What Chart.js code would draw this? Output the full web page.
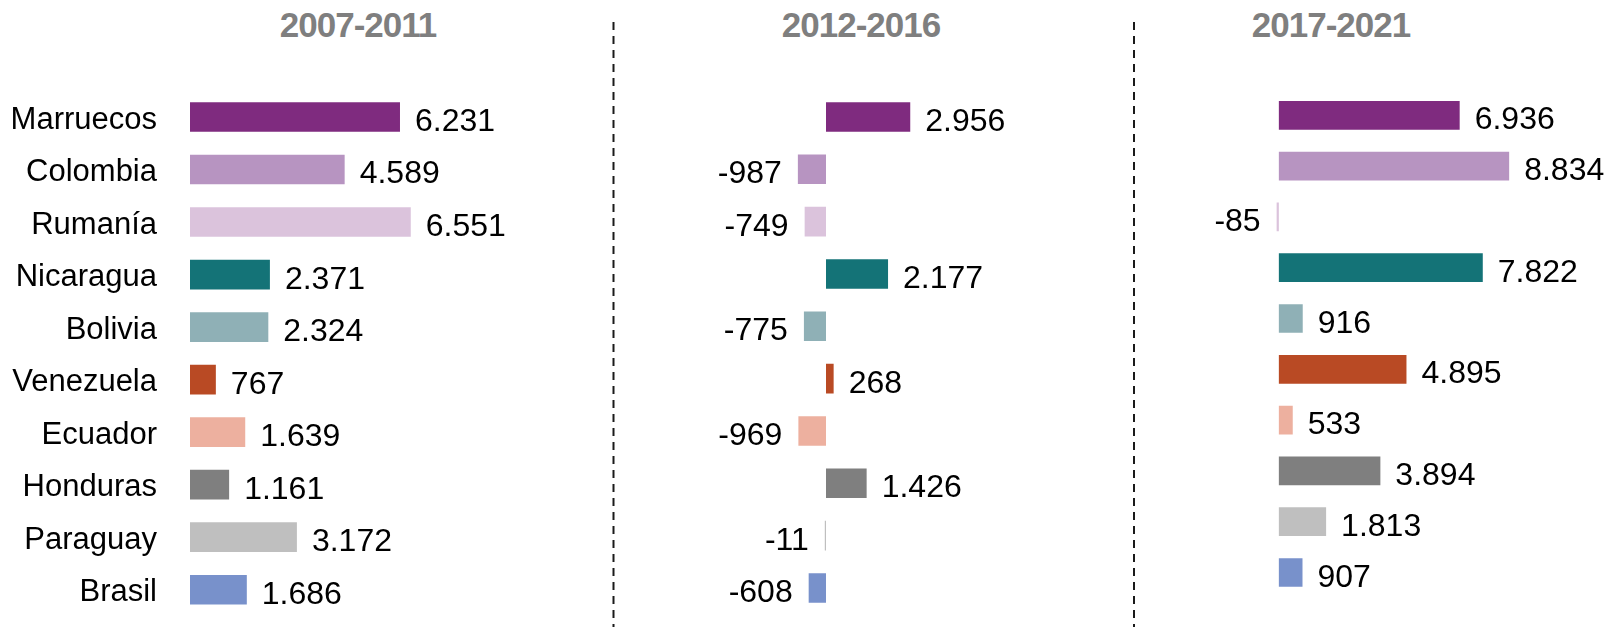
<!DOCTYPE html>
<html>
<head>
<meta charset="utf-8">
<script src="https://cdn.jsdelivr.net/npm/chart.js@4"></script>
<style>
  body { margin: 0; background: #fff; }
  #wrap { position: relative; width: 1612px; height: 627px; overflow: hidden; }
  canvas { position: absolute; top: 0; }
  .title {
    position: absolute; top: 4px; width: 300px; margin-left: -150px; text-align: center;
    font: bold 35px "Liberation Sans", Arial, sans-serif;
    letter-spacing: -1px; color: #7f7f7f; line-height: 42px;
  }
  svg { position: absolute; left: 0; top: 0; }
</style>
</head>
<body>
<div id="wrap">
  <svg width="1612" height="627">
    <line x1="613.5" y1="22" x2="613.5" y2="627" stroke="#1a1a1a" stroke-width="2" stroke-dasharray="8,6"/>
    <line x1="1134" y1="22" x2="1134" y2="627" stroke="#1a1a1a" stroke-width="2" stroke-dasharray="8,6"/>
  </svg>
  <div class="title" style="left:358px">2007-2011</div>
  <div class="title" style="left:861px">2012-2016</div>
  <div class="title" style="left:1331px">2017-2021</div>
  <canvas id="c1" width="600" height="627" style="left:0px"></canvas>
  <canvas id="c2" width="520" height="627" style="left:614px"></canvas>
  <canvas id="c3" width="478" height="627" style="left:1134px"></canvas>
</div>
<script>
const paises = ['Marruecos', 'Colombia', 'Rumanía', 'Nicaragua', 'Bolivia', 'Venezuela', 'Ecuador', 'Honduras', 'Paraguay', 'Brasil'];
const p2007 = [6231, 4589, 6551, 2371, 2324, 767, 1639, 1161, 3172, 1686];
const p2012 = [2956, -987, -749, 2177, -775, 268, -969, 1426, -11, -608];
const p2017 = [6936, 8834, -85, 7822, 916, 4895, 533, 3894, 1813, 907];
const colores = ['#7f2b7f', '#b794c1', '#dbc3dc', '#147377', '#8fb0b6', '#b94a24', '#edb09f', '#7f7f7f', '#bfbfbf', '#7891cb'];

const FONT = '"Liberation Sans", Arial, sans-serif';

function fmt(v) {
  const s = Math.abs(v).toString().replace(/\B(?=(\d{3})+(?!\d))/g, '.');
  return (v < 0 ? '-' : '') + s;
}

const valueLabels = {
  id: 'valueLabels',
  afterDatasetsDraw(chart) {
    const ctx = chart.ctx;
    const meta = chart.getDatasetMeta(0);
    const data = chart.data.datasets[0].data;
    ctx.save();
    ctx.font = '32px ' + FONT;
    ctx.fillStyle = '#000';
    ctx.textBaseline = 'alphabetic';
    meta.data.forEach((bar, i) => {
      const v = data[i];
      if (v < 0) {
        ctx.textAlign = 'right';
        ctx.fillText(fmt(v), Math.min(bar.x, bar.base) - 16, bar.y + 14);
      } else {
        ctx.textAlign = 'left';
        ctx.fillText(fmt(v), Math.max(bar.x, bar.base) + 15, bar.y + 14);
      }
    });
    ctx.restore();
  }
};

function panel(id, values, min, max, pad, showLabels) {
  new Chart(document.getElementById(id), {
    type: 'bar',
    data: {
      labels: paises,
      datasets: [{
        data: values,
        backgroundColor: colores,
        categoryPercentage: 1,
        barPercentage: 0.565,
        minBarLength: 1.2
      }]
    },
    options: {
      indexAxis: 'y',
      responsive: false,
      animation: false,
      layout: { padding: pad },
      plugins: { legend: { display: false }, tooltip: { enabled: false } },
      scales: {
        x: { display: false, min: min, max: max },
        y: {
          display: showLabels,
          grid: { display: false, drawTicks: false },
          border: { display: false },
          ticks: { color: '#000', font: { size: 31, family: FONT }, padding: 33, labelOffset: 3 },
          afterFit: (s) => {
            if (showLabels) s.width = 190;
            s.paddingTop = 0;
            s.paddingBottom = 0;
          }
        }
      }
    },
    plugins: [valueLabels]
  });
}

panel('c1', p2007, 0, 12000, { top: 90.7, bottom: 11, left: 0, right: 5.6 }, true);
panel('c2', p2012, -7000, 10000, { top: 90.8, bottom: 12.9, left: 12.5, right: 23 }, false);
panel('c3', p2017, -5000, 12000, { top: 89.9, bottom: 29.1, left: 14.5, right: 20.3 }, false);
</script>
</body>
</html>
